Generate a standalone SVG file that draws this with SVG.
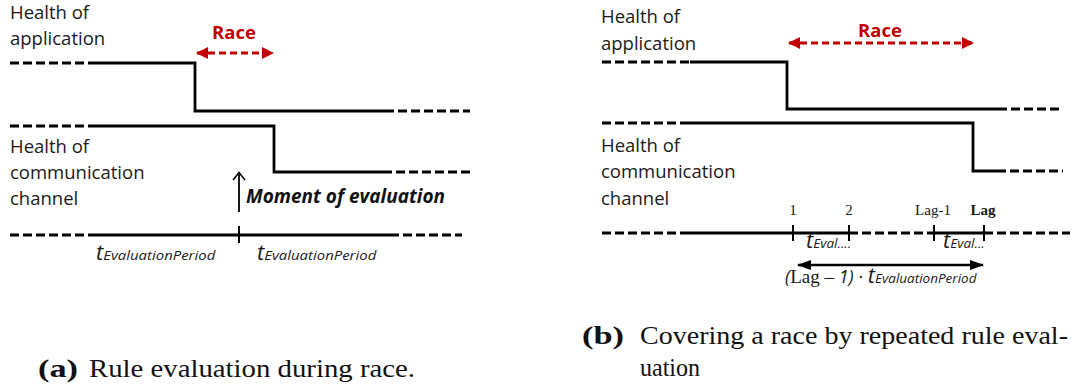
<svg xmlns="http://www.w3.org/2000/svg" width="1086" height="390" viewBox="0 0 1086 390">
  <style>
    .lbl { font-family: "Open Sans", "Noto Sans", sans-serif; font-size: 18.5px; fill: #1a1a1a; }
    .race { font-family: "Open Sans", "Noto Sans", sans-serif; font-size: 18.5px; font-weight: bold; fill: #c00000; }
    .sig { fill: none; stroke: #000; stroke-width: 2.8; }
    .dash { fill: none; stroke: #000; stroke-width: 2.8; stroke-dasharray: 9 4; }
    .tick { stroke: #000; stroke-width: 2; }
    .tbig { font-family: "Open Sans", "Noto Sans", sans-serif; font-size: 22px; font-style: italic; fill: #1a1a1a; }
    .tsub { font-family: "Open Sans", "Noto Sans", sans-serif; font-size: 13.5px; font-style: italic; fill: #1a1a1a; }
    .num { font-family: "Liberation Serif", "DejaVu Serif", serif; font-size: 15px; fill: #1a1a1a; }
    .cap { font-family: "Liberation Serif", "DejaVu Serif", serif; font-size: 25px; fill: #111; }
    .capb { font-family: "Liberation Serif", "DejaVu Serif", serif; font-size: 25px; font-weight: bold; fill: #111; }
  </style>
  <defs>
    <marker id="redHead" viewBox="0 0 12 12" refX="11" refY="6" markerWidth="12" markerHeight="12" markerUnits="userSpaceOnUse" orient="auto-start-reverse">
      <path d="M0,0 L12,6 L0,12 z" fill="#c00000"/>
    </marker>
    <marker id="blackHead" viewBox="0 0 14 10" refX="13" refY="5" markerWidth="14" markerHeight="10" markerUnits="userSpaceOnUse" orient="auto-start-reverse">
      <path d="M0,0 L14,5 L0,10 z" fill="#000"/>
    </marker>
  </defs>

  <!-- Panel (a): rule evaluation during race -->
  <g id="panel-a">
    <g id="a-app-label">
      <text class="lbl" x="10" y="19">Health of</text>
      <text class="lbl" x="10" y="45">application</text>
    </g>
    <g id="a-comm-label">
      <text class="lbl" x="10" y="153">Health of</text>
      <text class="lbl" x="10" y="179">communication</text>
      <text class="lbl" x="10" y="205">channel</text>
    </g>
    <g id="a-race">
      <text class="race" x="234" y="39" text-anchor="middle">Race</text>
      <line x1="197" y1="53" x2="273" y2="53" stroke="#c00000" stroke-width="3" stroke-dasharray="7 4" marker-start="url(#redHead)" marker-end="url(#redHead)"/>
    </g>
    <g id="a-app-signal">
      <line class="dash" x1="10" y1="63" x2="97" y2="63"/>
      <polyline class="sig" points="97,63 195,63 195,111 385,111"/>
      <line class="dash" x1="385" y1="111" x2="470" y2="111"/>
    </g>
    <g id="a-comm-signal">
      <line class="dash" x1="10" y1="126" x2="96" y2="126"/>
      <polyline class="sig" points="96,126 274,126 274,172 383,172"/>
      <line class="dash" x1="383" y1="172" x2="470" y2="172"/>
    </g>
    <g id="a-evaluation">
      <line x1="239" y1="212" x2="239" y2="173" stroke="#000" stroke-width="1.8"/>
      <polyline points="233,180 239,172.5 245,180" fill="none" stroke="#000" stroke-width="1.5"/>
      <text x="246" y="203" font-family="'Open Sans', 'Noto Sans', sans-serif" font-size="19" font-weight="bold" font-style="italic" fill="#111" textLength="199" lengthAdjust="spacingAndGlyphs">Moment of evaluation</text>
    </g>
    <g id="a-axis">
      <line class="dash" x1="10" y1="235" x2="94" y2="235"/>
      <line class="sig" x1="94" y1="235" x2="390" y2="235"/>
      <line class="dash" x1="390" y1="235" x2="462" y2="235"/>
      <line class="tick" x1="239" y1="226" x2="239" y2="243"/>
      <text x="96" y="260"><tspan class="tbig">t</tspan><tspan class="tsub" textLength="112" lengthAdjust="spacingAndGlyphs">EvaluationPeriod</tspan></text>
      <text x="257" y="260"><tspan class="tbig">t</tspan><tspan class="tsub" textLength="112" lengthAdjust="spacingAndGlyphs">EvaluationPeriod</tspan></text>
    </g>
    <g id="a-caption">
      <text class="capb" x="38" y="377" textLength="40" lengthAdjust="spacingAndGlyphs">(a)</text>
      <text class="cap" x="89" y="377" textLength="326" lengthAdjust="spacingAndGlyphs">Rule evaluation during race.</text>
    </g>
  </g>

  <!-- Panel (b): covering a race by repeated rule evaluation -->
  <g id="panel-b">
    <g id="b-app-label">
      <text class="lbl" x="601" y="23">Health of</text>
      <text class="lbl" x="601" y="50">application</text>
    </g>
    <g id="b-comm-label">
      <text class="lbl" x="601" y="152">Health of</text>
      <text class="lbl" x="601" y="178">communication</text>
      <text class="lbl" x="601" y="205">channel</text>
    </g>
    <g id="b-race">
      <text class="race" x="880" y="37" text-anchor="middle">Race</text>
      <line x1="789" y1="43" x2="973" y2="43" stroke="#c00000" stroke-width="3" stroke-dasharray="7 4" marker-start="url(#redHead)" marker-end="url(#redHead)"/>
    </g>
    <g id="b-app-signal">
      <line class="dash" x1="602" y1="62" x2="690" y2="62"/>
      <polyline class="sig" points="690,62 787,62 787,109 998,109"/>
      <line class="dash" x1="998" y1="109" x2="1063" y2="109"/>
    </g>
    <g id="b-comm-signal">
      <line class="dash" x1="602" y1="123" x2="688" y2="123"/>
      <polyline class="sig" points="688,123 973,123 973,171 997,171"/>
      <line class="dash" x1="997" y1="171" x2="1063" y2="171"/>
    </g>
    <g id="b-axis">
      <line class="dash" x1="602" y1="233" x2="687" y2="233"/>
      <line class="sig" x1="687" y1="233" x2="849" y2="233"/>
      <line class="dash" x1="849" y1="233" x2="934" y2="233"/>
      <line class="sig" x1="934" y1="233" x2="984" y2="233"/>
      <line class="dash" x1="984" y1="233" x2="1070" y2="233"/>
      <line class="tick" x1="793" y1="225" x2="793" y2="241"/>
      <line class="tick" x1="849" y1="225" x2="849" y2="241"/>
      <line class="tick" x1="934" y1="225" x2="934" y2="241"/>
      <line class="tick" x1="984" y1="225" x2="984" y2="241"/>
      <text class="num" x="793" y="215" text-anchor="middle">1</text>
      <text class="num" x="849" y="215" text-anchor="middle">2</text>
      <text class="num" x="933" y="215" text-anchor="middle">Lag-1</text>
      <text class="num" x="983" y="215" text-anchor="middle" font-weight="bold">Lag</text>
      <text x="806" y="248"><tspan class="tbig" font-size="18">t</tspan><tspan class="tsub" font-size="11.5">Eval....</tspan></text>
      <text x="943" y="248"><tspan class="tbig" font-size="18">t</tspan><tspan class="tsub" font-size="11.5">Eval...</tspan></text>
    </g>
    <g id="b-span">
      <line x1="798" y1="265" x2="983" y2="265" stroke="#000" stroke-width="2.5" marker-start="url(#blackHead)" marker-end="url(#blackHead)"/>
      <text x="785" y="283" fill="#1a1a1a"><tspan font-family="'Open Sans', sans-serif" font-style="italic" font-size="18">(</tspan><tspan font-family="'Liberation Serif', serif" font-size="19">Lag – </tspan><tspan font-family="'Open Sans', sans-serif" font-style="italic" font-size="18">1)</tspan><tspan font-family="'Open Sans', sans-serif" font-size="18"> · </tspan><tspan class="tbig" font-size="19">t</tspan><tspan class="tsub" font-size="12">EvaluationPeriod</tspan></text>
    </g>
    <g id="b-caption">
      <text class="capb" x="582" y="344" textLength="42" lengthAdjust="spacingAndGlyphs">(b)</text>
      <text class="cap" x="640" y="344" textLength="428" lengthAdjust="spacingAndGlyphs">Covering a race by repeated rule eval-</text>
      <text class="cap" x="640" y="376" textLength="60" lengthAdjust="spacingAndGlyphs">uation</text>
    </g>
  </g>
</svg>
